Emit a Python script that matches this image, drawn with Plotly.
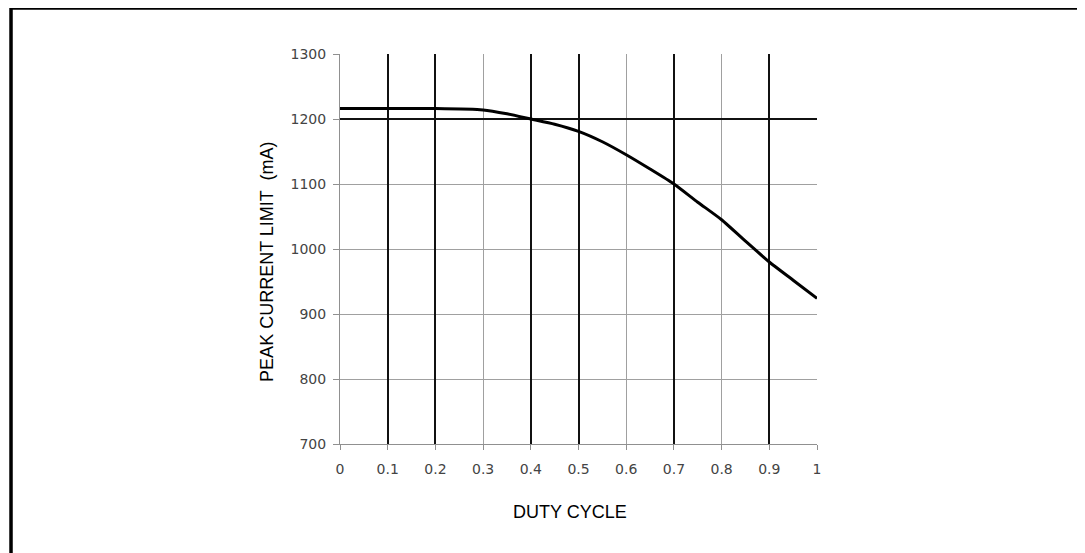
import plotly.graph_objects as go

# Data
duty_cycle = [0.0, 0.1, 0.2, 0.3, 0.35, 0.4, 0.45, 0.5, 0.55, 0.6, 0.65, 0.7, 0.75, 0.8, 0.85, 0.9, 0.95, 1.0]
peak_current_ma = [1216, 1216, 1216, 1214, 1208, 1200, 1192, 1181, 1165, 1145, 1123, 1100, 1072, 1045, 1012, 980, 952, 924]

x_ticks = [0, 0.1, 0.2, 0.3, 0.4, 0.5, 0.6, 0.7, 0.8, 0.9, 1]
x_tick_text = ["0", "0.1", "0.2", "0.3", "0.4", "0.5", "0.6", "0.7", "0.8", "0.9", "1"]
y_ticks = [700, 800, 900, 1000, 1100, 1200, 1300]
dark_x_grid = [0.1, 0.2, 0.4, 0.5, 0.7, 0.9]
dark_y_grid = [1200]

x_title = "DUTY CYCLE"
y_title = "PEAK CURRENT LIMIT  (mA)"

tick_font = dict(family="DejaVu Sans, Liberation Sans, Arial", size=14, color="#444")
title_font = dict(family="Liberation Sans, Arial", size=18, color="#000")

fig = go.Figure()
# dark grid overlay axes (x2/y2) carry the curve so they get drawn
fig.add_trace(go.Scatter(x=duty_cycle, y=peak_current_ma, mode="lines",
                         line=dict(color="black", width=3, shape="spline", smoothing=0.6),
                         xaxis="x2", yaxis="y2", showlegend=False, hoverinfo="x+y"))
fig.add_trace(go.Scatter(x=duty_cycle, y=peak_current_ma, mode="lines",
                         line=dict(color="rgba(0,0,0,0)", width=0),
                         showlegend=False, hoverinfo="skip"))

fig.update_layout(
    width=1085, height=553,
    margin=dict(l=332, r=276, t=46, b=117),
    paper_bgcolor="white", plot_bgcolor="white",
    xaxis=dict(range=[0, 1], tickvals=x_ticks, ticktext=x_tick_text,
               showgrid=True, gridcolor="#a0a0a0", gridwidth=1,
               showline=True, linecolor="#909090", linewidth=1,
               ticks="outside", ticklen=5, tickcolor="#909090",
               tickfont=tick_font, ticklabelstandoff=7, zeroline=False),
    yaxis=dict(range=[700, 1300], tickvals=y_ticks,
               showgrid=True, gridcolor="#a0a0a0", gridwidth=1,
               showline=True, linecolor="#909090", linewidth=1,
               ticks="outside", ticklen=6, tickcolor="#909090",
               tickfont=tick_font, ticklabelstandoff=4, zeroline=False),
    xaxis2=dict(overlaying="x", matches="x", range=[0, 1], tickvals=dark_x_grid,
                showgrid=True, gridcolor="#111", gridwidth=1.5,
                showticklabels=False, ticks="", showline=False, zeroline=False),
    yaxis2=dict(overlaying="y", matches="y", range=[700, 1300], tickvals=dark_y_grid,
                showgrid=True, gridcolor="#111", gridwidth=1.5,
                showticklabels=False, ticks="", showline=False, zeroline=False),
    annotations=[
        dict(text=y_title, textangle=-90, xref="paper", yref="paper",
             x=-0.153, y=0.467, showarrow=False, xanchor="center", yanchor="middle",
             font=title_font),
        dict(text=x_title, xref="paper", yref="paper",
             x=0.482, y=-0.174, showarrow=False, xanchor="center", yanchor="middle",
             font=title_font),
    ],
    shapes=[dict(type="rect", xref="paper", yref="paper",
                 x0=-0.6897, y0=-0.35, x1=1.65, y1=1.1179,
                 line=dict(color="black", width=3.5), layer="below")],
)

fig.write_html("out.html")
